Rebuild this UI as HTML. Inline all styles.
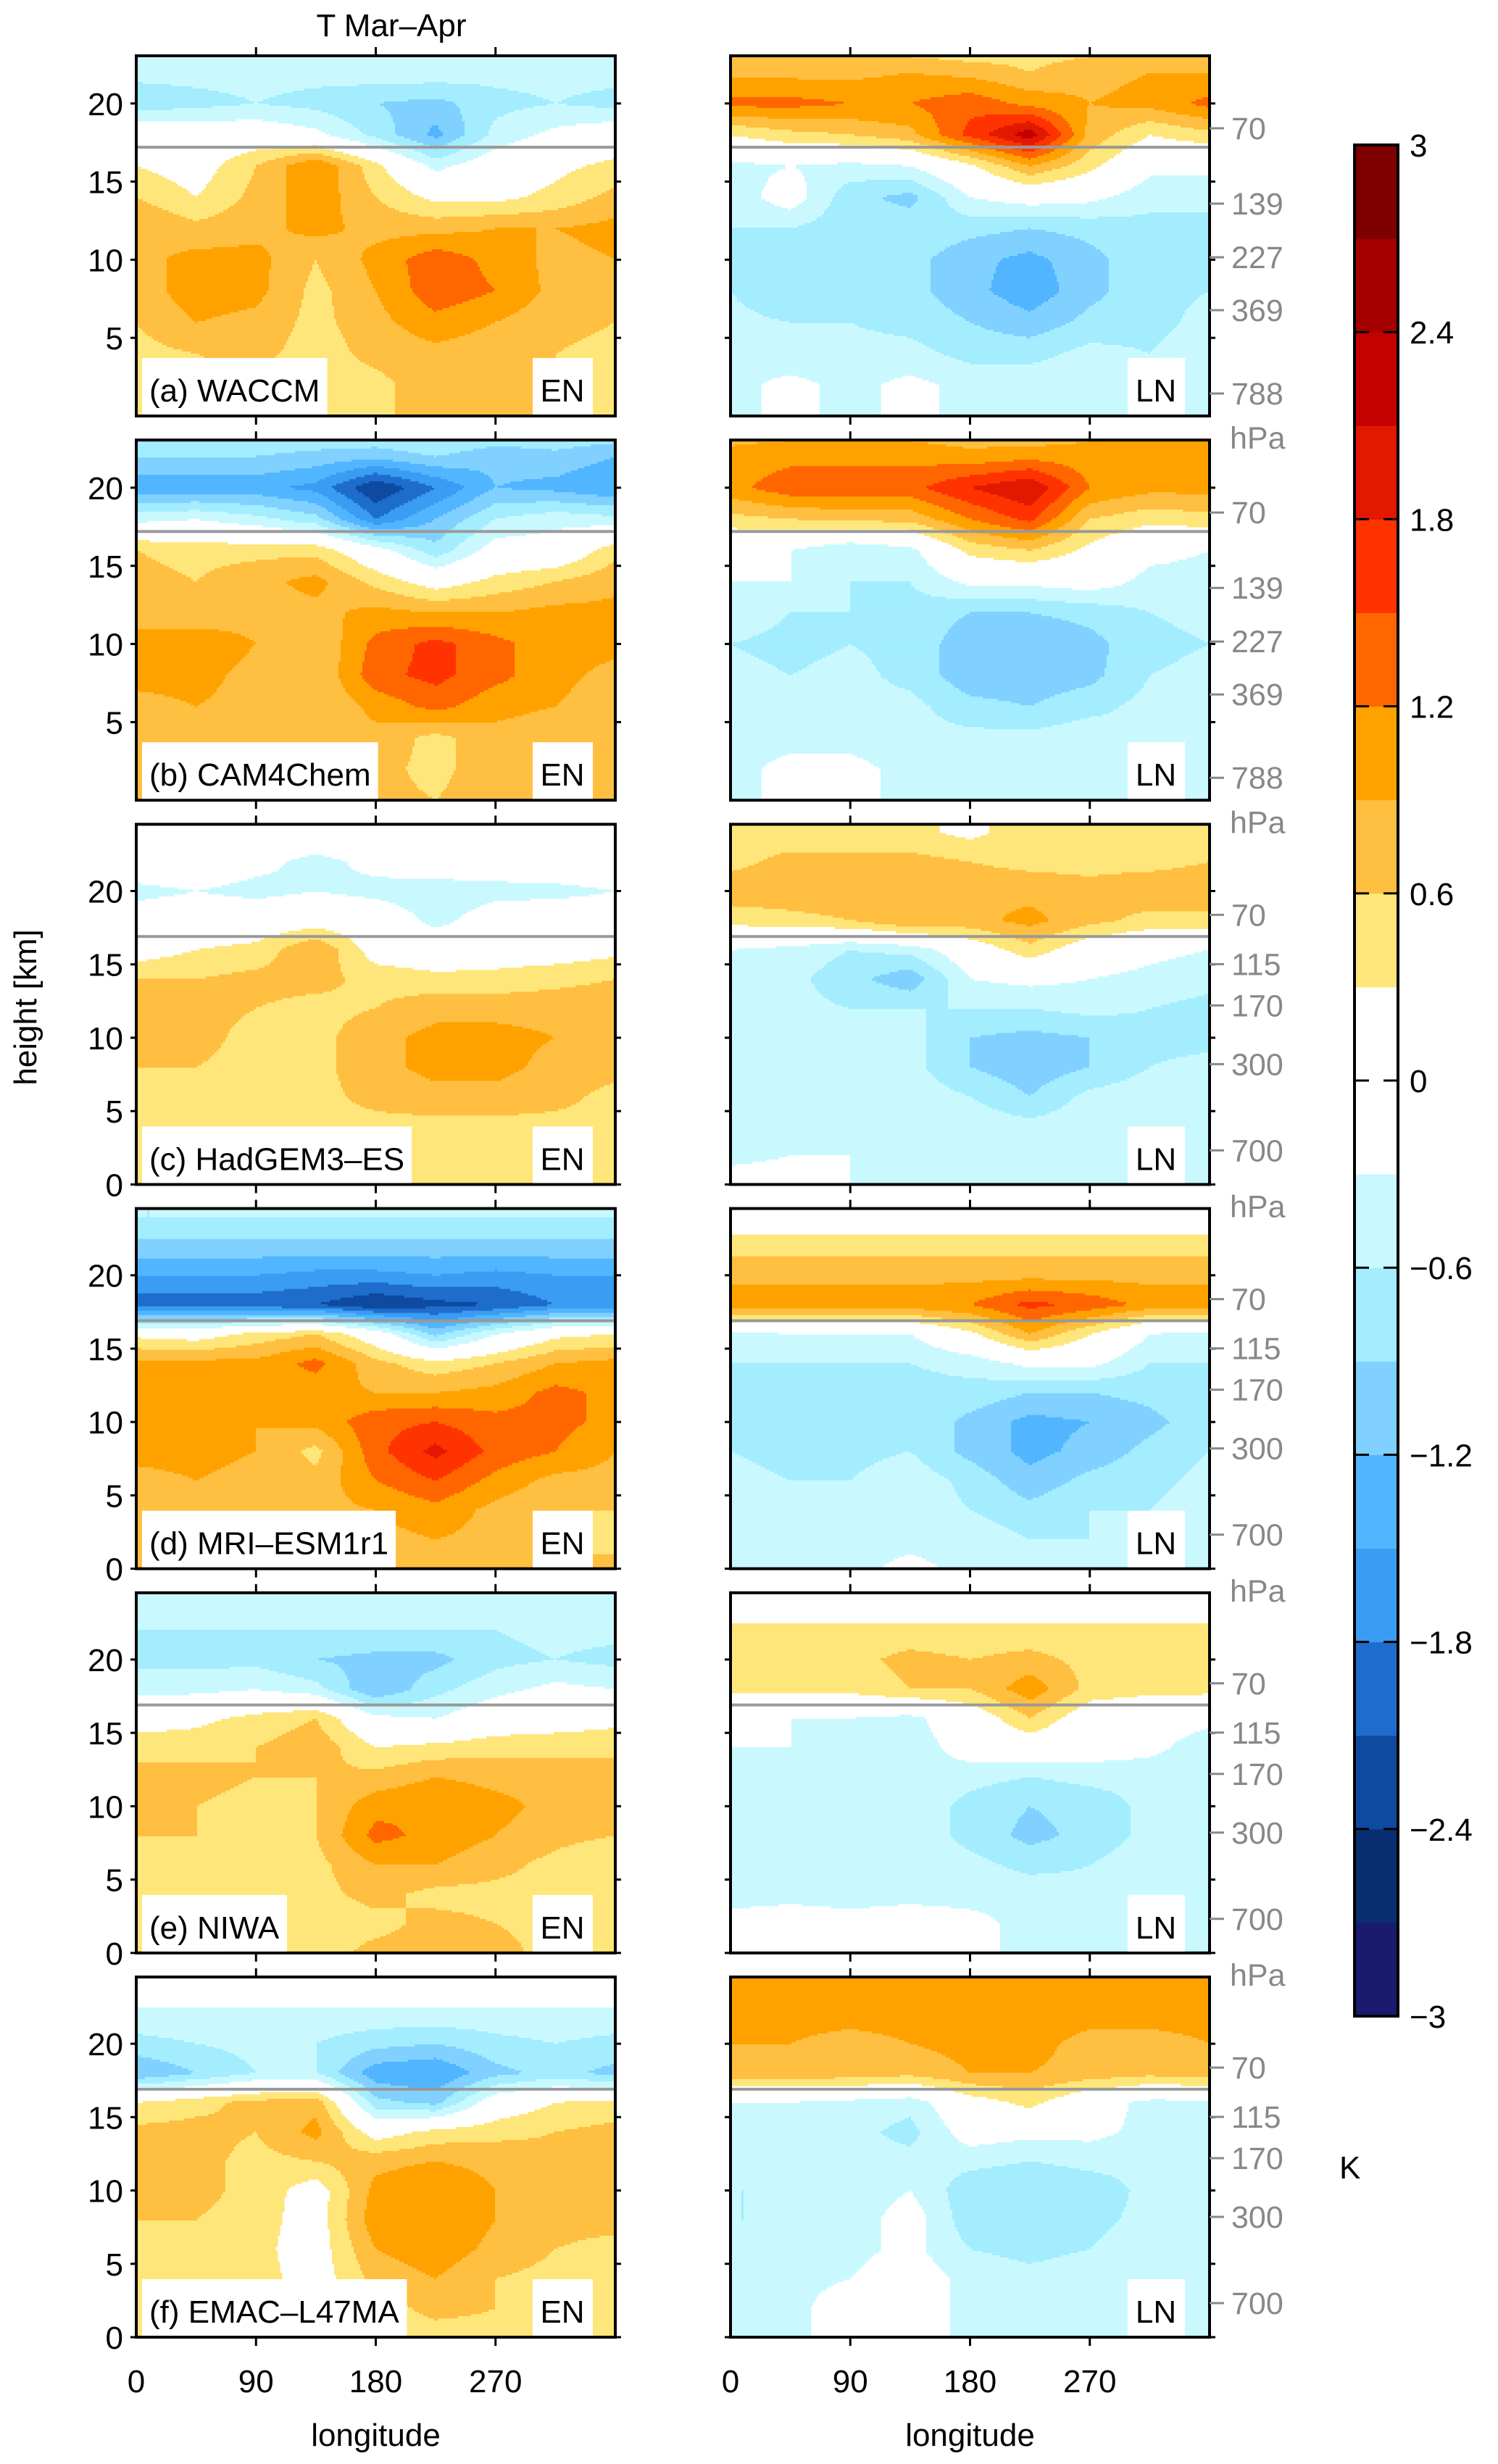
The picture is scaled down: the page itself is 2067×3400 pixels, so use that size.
<!DOCTYPE html>
<html><head><meta charset="utf-8"><style>
html,body{margin:0;padding:0;background:#fff;}
svg{display:block;font-family:"Liberation Sans",Arial,sans-serif;}
</style></head><body>
<svg id="fig" width="2067" height="3400" viewBox="0 0 2067 3400" xmlns="http://www.w3.org/2000/svg">
<text x="540" y="50" font-size="44" text-anchor="middle">T Mar–Apr</text>
<text transform="translate(50,1390) rotate(-90)" font-size="44" text-anchor="middle">height [km]</text>
<g id="panels"></g>
<g id="cbar"></g>
</svg>
<script>
// ---- data ----
const lons = [0,45,90,135,180,225,270,315,360];
const heights = [24,22,20,18,16,14,12,10,8,6,4,2,0];
const panelNames = ["(a) WACCM","(b) CAM4Chem","(c) HadGEM3–ES","(d) MRI–ESM1r1","(e) NIWA","(f) EMAC–L47MA"];
const cbLevels = [-3,-2.7,-2.4,-2.1,-1.8,-1.5,-1.2,-0.9,-0.6,-0.3,0.3,0.6,0.9,1.2,1.5,1.8,2.1,2.4,2.7,3];
const cbTickLabels = ["3","2.4","1.8","1.2","0.6","0","−0.6","−1.2","−1.8","−2.4","−3"];
const cbTickValues = [3,2.4,1.8,1.2,0.6,0,-0.6,-1.2,-1.8,-2.4,-3];
const xTickValues = [0,90,180,270];
const pressLabelsA = ["70","139","227","369","788"];
const pressLabelsB = ["70","115","170","300","700"];

const aEN = [
[-0.2,-0.2,-0.2,-0.2,-0.2,-0.2,-0.2,-0.2,-0.2],
[-0.5,-0.5,-0.5,-0.5,-0.4,-0.4,-0.5,-0.5,-0.5],
[-0.8,-0.7,-0.6,-0.7,-0.9,-1.0,-0.7,-0.6,-0.7],
[0.1,0,0,-0.2,-0.7,-1.3,-0.5,-0.2,0],
[0.3,0.1,0.6,1.2,0.4,-0.4,0,0.2,0.4],
[0.6,0.3,0.7,1.1,0.6,0.2,0.2,0.4,0.7],
[0.9,0.7,0.8,1.0,0.8,0.8,0.9,0.9,1.0],
[0.8,1.0,1.0,0.6,1.0,1.4,1.1,0.8,0.9],
[0.7,1.1,1.0,0.5,0.9,1.4,1.2,0.8,0.7],
[0.6,0.9,0.8,0.5,0.8,1.1,0.9,0.7,0.6],
[0.5,0.6,0.7,0.45,0.7,0.8,0.7,0.6,0.5],
[0.4,0.5,0.4,0.45,0.5,0.8,0.7,0.6,0.4],
[0.35,0.5,0.4,0.4,0.5,0.8,0.7,0.6,0.4]];
const aLN = [
[0.4,0.4,0.4,0.3,0.2,0.4,0.4,0.45,0.45],
[0.8,0.8,0.8,0.9,0.8,0.6,0.8,0.9,0.9],
[1.3,1.3,1.2,1.2,1.4,1.1,0.9,1.0,1.3],
[0.3,0.5,0.6,0.8,1.6,2.3,0.8,0.3,0.5],
[-0.4,-0.3,-0.4,-0.3,0.2,0.9,0.4,-0.2,-0.2],
[-0.5,-0.1,-0.8,-1.0,-0.3,-0.1,-0.2,-0.5,-0.5],
[-0.6,-0.6,-0.8,-0.7,-0.8,-0.9,-0.8,-0.7,-0.7],
[-0.7,-0.7,-0.7,-0.8,-1.1,-1.3,-1.0,-0.7,-0.7],
[-0.6,-0.9,-0.7,-0.8,-1.1,-1.4,-1.0,-0.7,-0.6],
[-0.5,-0.6,-0.6,-0.7,-0.9,-1.1,-0.8,-0.7,-0.5],
[-0.4,-0.5,-0.5,-0.5,-0.7,-0.7,-0.5,-0.6,-0.4],
[-0.4,-0.2,-0.4,-0.2,-0.4,-0.4,-0.5,-0.6,-0.4],
[-0.4,-0.2,-0.4,-0.2,-0.4,-0.4,-0.5,-0.6,-0.4]];
const bEN = [
[-0.4,-0.5,-0.5,-0.5,-0.4,-0.3,-0.5,-0.5,-0.5],
[-0.9,-0.9,-0.9,-1.0,-1.1,-0.9,-1.1,-1.0,-1.2],
[-1.4,-1.4,-1.4,-1.6,-2.4,-1.8,-1.2,-1.3,-1.5],
[-0.4,-0.3,-0.5,-0.8,-1.8,-1.2,-0.6,-0.4,-0.5],
[0.6,0.5,0.5,0.5,-0.1,-0.8,-0.1,-0.1,0.5],
[0.7,0.6,0.8,1.0,0.5,0.1,0.4,0.6,0.8],
[0.8,0.7,0.8,0.8,1.0,0.9,0.9,1.0,1.0],
[1.0,1.1,0.9,0.6,1.3,1.6,1.3,1.0,1.0],
[1.0,1.0,0.8,0.6,1.4,1.6,1.3,1.0,0.8],
[0.8,0.9,0.8,0.6,1.0,1.3,1.0,0.9,0.7],
[0.7,0.7,0.6,0.7,0.8,0.5,0.8,0.7,0.6],
[0.6,0.6,0.6,0.7,0.7,0.5,0.8,0.7,0.6],
[0.6,0.6,0.6,0.7,0.7,0.6,0.8,0.7,0.6]];
const bLN = [
[0.7,0.7,0.8,0.7,0.6,0.5,0.8,0.9,0.9],
[1.0,1.1,1.1,1.1,1.0,1.1,1.0,1.1,1.1],
[1.1,1.4,1.4,1.4,1.8,2.1,1.2,1.0,1.0],
[0.5,0.6,0.7,0.7,1.2,1.6,0.6,0.4,0.5],
[-0.2,-0.3,-0.6,-0.4,0.4,0.6,0.2,-0.2,-0.3],
[-0.3,-0.3,-0.6,-0.6,-0.2,-0.2,-0.1,-0.4,-0.4],
[-0.4,-0.6,-0.6,-0.7,-0.9,-0.9,-0.8,-0.6,-0.5],
[-0.6,-0.7,-0.6,-0.7,-1.1,-1.2,-1.0,-0.7,-0.6],
[-0.5,-0.6,-0.5,-0.7,-1.1,-1.1,-1.0,-0.6,-0.5],
[-0.5,-0.4,-0.5,-0.5,-0.8,-0.9,-0.7,-0.5,-0.5],
[-0.4,-0.4,-0.4,-0.5,-0.5,-0.5,-0.4,-0.6,-0.5],
[-0.4,-0.2,-0.2,-0.4,-0.4,-0.4,-0.4,-0.6,-0.4],
[-0.4,-0.2,-0.2,-0.4,-0.4,-0.4,-0.4,-0.6,-0.4]];
const cEN = [
[0,0,0,0,0,0,0,-0.1,-0.1],
[0,0,-0.2,-0.4,-0.2,0,-0.1,0,0],
[-0.4,-0.3,-0.4,-0.3,-0.4,-0.5,-0.4,-0.4,-0.3],
[-0.1,0,0,0.1,0,-0.4,-0.1,0,0],
[0.1,0.3,0.4,0.9,0.1,0,0.1,0.1,0.2],
[0.6,0.6,0.7,0.7,0.5,0.4,0.4,0.5,0.6],
[0.7,0.7,0.6,0.5,0.6,0.8,0.8,0.8,0.8],
[0.7,0.7,0.5,0.5,0.8,1.0,1.0,0.9,0.8],
[0.6,0.6,0.5,0.5,0.8,1.0,1.0,0.8,0.7],
[0.5,0.5,0.4,0.5,0.7,0.8,0.8,0.7,0.5],
[0.5,0.45,0.45,0.5,0.5,0.5,0.5,0.5,0.5],
[0.45,0.45,0.45,0.45,0.45,0.45,0.45,0.45,0.4],
[0.4,0.4,0.4,0.4,0.4,0.4,0.4,0.4,0.4]];
const cLN = [
[0.5,0.4,0.4,0.4,0.2,0.5,0.4,0.45,0.4],
[0.5,0.7,0.7,0.7,0.6,0.5,0.5,0.5,0.6],
[0.8,0.8,0.8,0.8,0.8,0.8,0.7,0.8,0.8],
[0.4,0.5,0.6,0.9,0.8,1.0,0.7,0.5,0.5],
[-0.3,-0.4,-0.6,-0.5,0,0.5,0,-0.2,-0.3],
[-0.5,-0.5,-0.8,-1.1,-0.3,-0.2,-0.3,-0.4,-0.5],
[-0.5,-0.5,-0.6,-0.6,-0.6,-0.6,-0.5,-0.6,-0.7],
[-0.6,-0.6,-0.5,-0.5,-0.9,-1.0,-0.9,-0.7,-0.7],
[-0.5,-0.6,-0.5,-0.5,-0.9,-1.1,-0.9,-0.6,-0.5],
[-0.4,-0.4,-0.4,-0.4,-0.6,-0.9,-0.5,-0.4,-0.4],
[-0.4,-0.4,-0.4,-0.4,-0.4,-0.5,-0.4,-0.4,-0.4],
[-0.4,-0.3,-0.3,-0.4,-0.4,-0.5,-0.4,-0.4,-0.4],
[-0.1,-0.1,-0.3,-0.4,-0.4,-0.4,-0.4,-0.4,-0.4]];
const dEN = [
[-0.6,-0.6,-0.6,-0.6,-0.6,-0.6,-0.6,-0.6,-0.6],
[-1.0,-1.0,-1.0,-1.0,-1.0,-1.0,-1.0,-1.0,-1.0],
[-1.5,-1.5,-1.5,-1.6,-1.6,-1.5,-1.6,-1.5,-1.5],
[-2.0,-2.0,-2.0,-2.1,-2.4,-2.2,-2.1,-1.8,-1.8],
[0.2,0.1,0.4,0.6,0,-1.0,-0.3,0.2,0.3],
[1.0,1.0,1.0,1.3,0.7,0.4,0.6,0.9,1.0],
[1.0,1.0,1.0,1.0,0.9,0.9,1.0,1.3,1.1],
[1.1,1.1,0.9,1.0,1.4,1.5,1.3,1.3,1.1],
[1.0,1.0,0.9,0.5,1.4,1.9,1.4,1.2,0.9],
[0.8,0.9,0.8,0.7,1.2,1.5,1.1,0.8,0.8],
[0.8,0.8,0.8,0.8,0.9,1.1,0.8,0.6,0.6],
[0.8,0.8,0.8,0.8,0.8,0.9,0.8,0.6,0.5],
[0.8,0.8,0.8,0.8,0.8,0.9,0.8,0.6,0.7]];
const dLN = [
[0,0,0,0,0,0,0,0,0],
[0.5,0.5,0.5,0.5,0.5,0.5,0.5,0.5,0.5],
[0.8,0.8,0.8,0.8,0.8,0.8,0.8,0.8,0.8],
[1.1,1.1,1.1,1.1,1.2,1.6,1.4,1.1,1.1],
[-0.4,-0.3,-0.3,-0.3,0.2,0.9,0.3,-0.3,-0.4],
[-0.6,-0.6,-0.6,-0.6,-0.5,-0.2,-0.2,-0.6,-0.6],
[-0.6,-0.7,-0.7,-0.7,-0.7,-0.9,-0.9,-0.8,-0.6],
[-0.7,-0.7,-0.6,-0.6,-1.0,-1.3,-1.2,-1.0,-0.7],
[-0.6,-0.7,-0.7,-0.6,-1.0,-1.3,-1.1,-0.8,-0.6],
[-0.5,-0.6,-0.6,-0.4,-0.7,-1.1,-0.8,-0.7,-0.5],
[-0.4,-0.4,-0.5,-0.4,-0.6,-0.8,-0.6,-0.6,-0.4],
[-0.5,-0.4,-0.4,-0.4,-0.4,-0.6,-0.6,-0.6,-0.4],
[-0.6,-0.4,-0.4,-0.2,-0.4,-0.6,-0.6,-0.6,-0.4]];
const eEN = [
[-0.4,-0.4,-0.4,-0.4,-0.4,-0.4,-0.4,-0.4,-0.4],
[-0.6,-0.6,-0.6,-0.6,-0.6,-0.6,-0.6,-0.5,-0.5],
[-0.7,-0.7,-0.7,-0.9,-1.0,-1.0,-0.7,-0.6,-0.7],
[-0.4,-0.4,-0.3,-0.5,-1.2,-0.7,-0.4,-0.2,-0.3],
[0.1,0.2,0.4,0.6,-0.2,-0.3,0,0.1,0.2],
[0.5,0.5,0.6,0.8,0.3,0.4,0.5,0.5,0.5],
[0.7,0.7,0.6,0.6,0.7,0.9,0.8,0.8,0.8],
[0.7,0.6,0.5,0.6,1.1,1.2,1.0,0.8,0.7],
[0.6,0.6,0.5,0.6,1.3,1.1,0.9,0.7,0.6],
[0.5,0.5,0.45,0.5,0.9,0.9,0.7,0.5,0.3],
[0.45,0.45,0.45,0.5,0.7,0.5,0.5,0.5,0.3],
[0.45,0.2,0.45,0.45,0.5,0.7,0.6,0.5,0.5],
[0.4,0.2,0.4,0.45,0.7,0.7,0.7,0.5,0.5]];
const eLN = [
[0,0,0,0,0,0,0,0,0],
[0.4,0.4,0.4,0.4,0.4,0.4,0.4,0.4,0.4],
[0.5,0.5,0.5,0.7,0.6,0.7,0.5,0.5,0.5],
[0.4,0.4,0.4,0.6,0.6,1.1,0.5,0.4,0.4],
[-0.2,-0.3,-0.3,-0.4,0,0.6,0,-0.1,-0.2],
[-0.3,-0.3,-0.5,-0.5,-0.1,0,-0.1,-0.2,-0.5],
[-0.4,-0.4,-0.4,-0.4,-0.5,-0.6,-0.5,-0.5,-0.5],
[-0.4,-0.4,-0.4,-0.4,-0.7,-0.9,-0.8,-0.5,-0.4],
[-0.4,-0.4,-0.4,-0.4,-0.7,-1.0,-0.8,-0.5,-0.4],
[-0.4,-0.4,-0.4,-0.4,-0.5,-0.7,-0.6,-0.4,-0.4],
[-0.4,-0.4,-0.4,-0.4,-0.4,-0.4,-0.5,-0.4,-0.4],
[-0.2,-0.1,-0.2,-0.1,-0.2,-0.4,-0.4,-0.4,-0.4],
[-0.3,-0.1,-0.1,-0.1,-0.2,-0.4,-0.5,-0.4,-0.3]];
const fEN = [
[0,0,0,0,0,0,0,0,0],
[-0.4,-0.4,-0.4,-0.4,-0.4,-0.4,-0.4,-0.4,-0.4],
[-0.7,-0.6,-0.5,-0.6,-0.8,-0.9,-0.7,-0.6,-0.7],
[-1.2,-0.9,-0.6,-0.6,-1.4,-1.5,-1.0,-0.8,-1.0],
[0.3,0.5,0.7,0.8,-0.8,-1.0,0,0.3,0.4],
[0.7,0.7,0.6,1.0,0.1,0.4,0.5,0.6,0.7],
[0.8,0.7,0.5,0.6,0.8,0.9,0.8,0.7,0.8],
[0.8,0.7,0.5,0.1,1.0,1.2,0.9,0.7,0.8],
[0.6,0.6,0.45,0.1,1.1,1.2,0.9,0.7,0.7],
[0.5,0.45,0.4,0.1,0.9,1.1,0.8,0.6,0.5],
[0.45,0.45,0.45,0.1,0.7,0.9,0.6,0.5,0.45],
[0.45,0.45,0.45,0.2,0.45,0.7,0.6,0.45,0.45],
[0.45,0.45,0.45,0.2,0.45,0.45,0.5,0.45,0.45]];
const fLN = [
[1.0,1.0,1.0,1.0,1.0,1.0,1.0,1.0,1.0],
[1.0,1.0,1.0,1.0,1.0,1.1,1.0,1.0,1.0],
[0.9,0.9,0.8,0.9,1.0,1.0,0.8,0.8,0.9],
[0.8,0.8,0.8,0.7,0.9,0.9,0.8,0.7,0.8],
[-0.3,-0.3,-0.4,-0.5,0.1,0.4,-0.1,-0.4,-0.4],
[-0.4,-0.4,-0.5,-0.7,-0.1,-0.2,-0.2,-0.4,-0.5],
[-0.5,-0.5,-0.5,-0.5,-0.5,-0.6,-0.5,-0.5,-0.6],
[-0.6,-0.6,-0.5,-0.3,-0.8,-0.9,-0.8,-0.5,-0.6],
[-0.6,-0.6,-0.5,-0.1,-0.8,-0.9,-0.7,-0.5,-0.6],
[-0.5,-0.5,-0.4,-0.2,-0.6,-0.7,-0.6,-0.4,-0.5],
[-0.4,-0.4,-0.3,-0.1,-0.4,-0.5,-0.4,-0.4,-0.4],
[-0.4,-0.4,-0.1,-0.1,-0.4,-0.4,-0.4,-0.4,-0.4],
[-0.4,-0.4,-0.1,-0.1,-0.4,-0.4,-0.4,-0.4,-0.4]];
const fieldsEN = [aEN,bEN,cEN,dEN,eEN,fEN];
const fieldsLN = [aLN,bLN,cLN,dLN,eLN,fLN];
const tropopause = [17.2,17.2,16.9,16.9,16.9,16.9];

// ---- styling ----
const binColors = ["#1a1a6e","#0a2e72","#0e4aa0","#1e6dcc","#3a9cf2","#52b5ff","#80d1ff","#a3edff","#c9f9ff",null,
                   "#ffe67a","#ffbf40","#ffa200","#ff6600","#ff3300","#e21800","#c40000","#a50000","#7f0000"];
const NS="http://www.w3.org/2000/svg";
function mk(tag, attrs, parent){const e=document.createElementNS(NS,tag);for(const k in attrs)e.setAttribute(k,attrs[k]);if(parent)parent.appendChild(e);return e;}
function binOf(v){for(let i=cbLevels.length-2;i>=0;i--){if(v>=cbLevels[i])return Math.min(i,binColors.length-1);}return 0;}
function sample(f,lon,h){
  const gx=lon/45; let i=Math.min(Math.floor(gx),lons.length-2); const tx=gx-i;
  const gy=(24-h)/2; let j=Math.max(0,Math.min(Math.floor(gy),heights.length-2)); const ty=Math.max(0,Math.min(1,gy-j));
  const a=f[j][i],b=f[j][i+1],c=f[j+1][i],d=f[j+1][i+1];
  return (a*(1-tx)+b*tx)*(1-ty)+(c*(1-tx)+d*tx)*ty;
}
const panelsG=document.getElementById('panels');
const PW=661, PH=497, X0=[188,1008];
function drawPanel(k,side){
  const f = side===0?fieldsEN[k]:fieldsLN[k];
  const top=77+530.2*k, left=X0[side];
  const hmax = k<2?23.05:24.55;
  const xS = lon=>left+lon/360*PW;
  const yS = h=>top+PH-h/hmax*PH;
  const g=mk('g',{},panelsG);
  
  
  const cw=3, ch=3;
  for(let y=0;y<PH;y+=ch){
    const h=hmax*(1-(y+ch/2)/PH);
    let runStart=0, runBin=-1;
    const flush=(end)=>{ if(runBin>=0 && binColors[runBin]){ const r=mk('rect',{x:left+runStart,y:top+y,width:end-runStart+0.6,height:ch+0.6,fill:binColors[runBin]},g);
        
         } };
    for(let x=0;x<PW;x+=cw){
      const lon=(x+cw/2)/PW*360;
      const b=binOf(sample(f,lon,h));
      if(b!==runBin){ flush(x); runStart=x; runBin=b; }
    }
    flush(PW);
  }
  const tl=mk('line',{x1:left,x2:left+PW,y1:yS(tropopause[k]),y2:yS(tropopause[k]),stroke:'#999',"stroke-width":4},g);
  
  
  const fr=mk('rect',{x:left,y:top,width:PW,height:PH,fill:'none',stroke:'#000',"stroke-width":4},g);
  
  
  xTickValues.forEach(v=>{ if(v===0)return;
    mk('line',{x1:xS(v),x2:xS(v),y1:top,y2:top-12,stroke:'#000',"stroke-width":3},g);
    mk('line',{x1:xS(v),x2:xS(v),y1:top+PH,y2:top+PH+12,stroke:'#000',"stroke-width":3},g);
  });
  const yt = k<2?[5,10,15,20]:[0,5,10,15,20];
  yt.forEach(v=>{
    mk('line',{x1:left,x2:left-8,y1:yS(v),y2:yS(v),stroke:'#000',"stroke-width":3},g);
    mk('line',{x1:left+PW,x2:left+PW+8,y1:yS(v),y2:yS(v),stroke:'#000',"stroke-width":3},g);
    if(side===0){ const t=mk('text',{x:left-18,y:yS(v)+16,"font-size":44,"text-anchor":"end"},g); t.textContent=v;
      
       }
  });
  if(side===0){
    const lbl=mk('text',{x:left+18,y:top+PH-20,"font-size":44},g); lbl.textContent=panelNames[k];
    
    
    const bb=lbl.getBBox();
    const bx=mk('rect',{x:left+8,y:top+PH-80,width:bb.width+20,height:78,fill:'#fff'},g); g.insertBefore(bx,lbl);
  }
  const tag = side===0?'EN':'LN';
  const bx2=mk('rect',{x:left+(side===0?547:548),y:top+PH-80,width:(side===0?83:79),height:78,fill:'#fff'},g);
  
  
  const et=mk('text',{x:left+(side===0?588:587),y:top+PH-20,"font-size":44,"text-anchor":"middle"},g); et.textContent=tag;
  
  
  if(side===1){
    const pl = k<2?pressLabelsA:pressLabelsB;
    const pr = k<2?[100,204,278,351,466]:[125,193,250,331,450];
    pl.forEach((s,i)=>{
      mk('line',{x1:left+PW,x2:left+PW+20,y1:top+pr[i],y2:top+pr[i],stroke:'#888',"stroke-width":3},g);
      const t=mk('text',{x:left+PW+30,y:top+pr[i]+15,"font-size":43,fill:'#888'},g); t.textContent=s;
      
      
    });
    if(k>0){ const h=mk('text',{x:left+PW+28,y:top+12,"font-size":43,fill:'#888'},g); h.textContent='hPa';
      
       }
  }
  if(k===5){
    xTickValues.forEach(v=>{ const t=mk('text',{x:xS(v),y:top+PH+76,"font-size":44,"text-anchor":"middle"},g); t.textContent=v;
      
       });
    const xl=mk('text',{x:left+PW/2,y:top+PH+150,"font-size":44,"text-anchor":"middle"},g); xl.textContent='longitude';
    
    
  }
}
for(let k=0;k<6;k++){drawPanel(k,0);drawPanel(k,1);}

const cb=document.getElementById('cbar');


const CBX=1869, CBW=60, CBT=200, CBB=2782;
const cy=v=>CBB-(v+3)/6*(CBB-CBT);
for(let i=0;i<cbLevels.length-1;i++){
  const lo=cbLevels[i], hi=cbLevels[i+1];
  const col = (lo<0&&hi>0)?'#fff':binColors[Math.min(i,binColors.length-1)]||'#fff';
  const r=mk('rect',{x:CBX,y:cy(hi),width:CBW,height:cy(lo)-cy(hi)+0.5,fill:col},cb);
  
  
}
mk('rect',{x:CBX,y:CBT,width:CBW,height:CBB-CBT,fill:'none',stroke:'#000',"stroke-width":4},cb);
cbTickValues.forEach((v,i)=>{
  if(i>0&&i<cbTickValues.length-1) mk('line',{x1:CBX,x2:CBX+CBW,y1:cy(v),y2:cy(v),stroke:'#000',"stroke-width":3,"stroke-dasharray":"20 20"},cb);
  const t=mk('text',{x:1945,y:cy(v)+16,"font-size":44},cb); t.textContent=cbTickLabels[i];
  
  
});
const K=mk('text',{x:1848,y:3006,"font-size":44},cb); K.textContent='K';


</script>
</body></html>
